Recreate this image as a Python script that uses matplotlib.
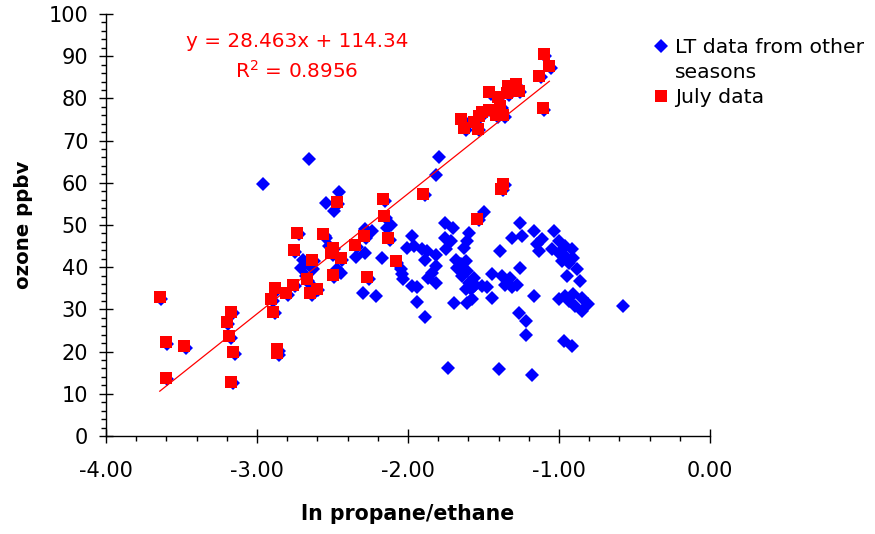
import matplotlib
matplotlib.use("Agg")
import matplotlib.pyplot as plt
from matplotlib.ticker import MultipleLocator, FormatStrFormatter
from matplotlib.lines import Line2D
from matplotlib.transforms import ScaledTranslation
import numpy as np

plt.rcParams['font.family'] = ['DejaVu Sans']
plt.rcParams['axes.unicode_minus'] = False

# LT data from other seasons: ln(propane/ethane) vs ozone (ppbv)
other_x = [-2.962, -2.653, -1.795, -1.815, -2.455, -2.543, -2.493, -2.115, -2.137,
           -2.284, -2.236, -2.345, -2.284, -2.174, -2.295, -2.209, -1.976, -2.005,
           -1.960, -1.906, -1.873, -1.888, -1.817, -1.758, -1.701, -1.756, -1.718,
           -1.751, -1.597, -1.608, -1.630, -1.685, -1.652, -1.619, -1.674, -1.817,
           -1.840, -1.866, -1.817, -1.608, -1.564, -1.553, -1.586, -1.619, -1.696,
           -1.608, -2.038, -2.049, -2.033, -1.972, -1.939, -1.943, -1.890, -1.734,
           -2.698, -2.708, -2.653, -2.632, -2.675, -2.653, -2.543, -2.521, -2.445,
           -2.467, -1.495, -1.256, -1.311, -1.245, -1.168, -1.114, -1.036, -1.003,
           -0.959, -0.915, -1.003, -1.047, -0.959, -0.904, -0.981, -0.937, -1.135,
           -1.146, -0.948, -0.882, -0.860, -1.389, -1.256, -1.443, -1.377, -1.322,
           -1.278, -1.311, -1.355, -1.641, -1.597, -1.564, -1.510, -1.476, -1.575,
           -1.443, -1.168, -1.003, -0.959, -0.904, -0.849, -0.805, -0.849, -0.893,
           -0.937, -0.579, -1.267, -1.217, -1.217, -0.970, -0.911, -1.399, -1.180]
other_y = [59.8, 65.6, 66.2, 61.8, 57.8, 55.2, 53.3, 50.1, 49.3,
           49.1, 48.5, 42.5, 43.3, 42.1, 34.0, 33.2, 47.5, 44.6,
           45.0, 44.2, 43.8, 41.8, 43.0, 50.5, 49.2, 47.0, 46.2,
           44.2, 48.2, 46.2, 44.6, 41.8, 40.7, 41.4, 39.9, 40.3,
           38.7, 37.5, 36.3, 39.1, 37.5, 35.9, 34.8, 34.8, 31.6,
           31.6, 38.3, 39.5, 37.1, 35.5, 35.4, 31.8, 28.1, 16.2,
           41.8, 39.9, 40.7, 39.5, 37.9, 36.3, 47.0, 45.0, 38.7,
           39.5, 53.1, 50.4, 47.0, 47.4, 48.5, 46.6, 48.5, 46.2,
           45.0, 44.2, 43.4, 44.2, 42.6, 42.2, 41.4, 41.0, 43.8,
           45.4, 37.9, 39.5, 36.7, 43.8, 39.9, 38.3, 37.9, 37.5,
           35.9, 35.2, 35.9, 37.9, 36.3, 35.5, 35.5, 35.2, 32.4,
           32.8, 33.2, 32.4, 33.2, 33.6, 32.8, 31.2, 29.6, 30.8,
           32.0, 30.7, 29.1, 27.3, 23.9, 22.5, 21.3, 15.8, 14.5]

# July data
july_x = [-3.644, -3.604, -3.604, -3.481, -3.200, -3.186, -3.173, -3.160, -3.173,
          -2.904, -2.893, -2.880, -2.867, -2.867, -2.807, -2.757, -2.733, -2.759,
          -2.671, -2.647, -2.636, -2.605, -2.561, -2.500, -2.511, -2.445, -2.500,
          -2.473, -2.350, -2.290, -2.269, -2.165, -2.156, -2.130, -2.082, -1.901,
          -1.543, -1.371, -1.384, -1.102, -1.064, -1.130, -1.108,
          -1.462, -1.406, -1.340, -1.287, -1.268, -1.344, -1.390, -1.461, -1.510,
          -1.418, -1.368, -1.648, -1.630, -1.560, -1.538, -1.531, -1.443]
july_y = [32.9, 22.3, 13.8, 21.3, 27.0, 23.6, 29.5, 19.8, 12.9,
          32.4, 29.5, 35.1, 20.6, 19.6, 33.8, 44.0, 48.2, 35.9,
          37.1, 33.8, 41.8, 34.9, 47.8, 44.6, 43.3, 42.2, 38.1,
          55.4, 45.2, 47.4, 37.6, 56.2, 52.1, 46.9, 41.4, 57.4,
          51.5, 59.8, 58.6, 90.5, 87.6, 85.4, 77.7,
          81.5, 80.4, 83.0, 83.4, 81.8, 81.2, 78.1, 77.3, 76.7,
          76.1, 76.1, 75.2, 73.0, 74.3, 72.8, 75.9, 77.3]

# Linear trend fitted to the July data
slope = 28.463
intercept = 114.34
r_squared = 0.8956

x_ticks = [-4.0, -3.0, -2.0, -1.0, 0.0]
y_ticks = [0, 10, 20, 30, 40, 50, 60, 70, 80, 90, 100]

BLUE = '#0000FF'
RED = '#FF0000'
W, H = 875, 534

fig = plt.figure(figsize=(W / 100, H / 100), dpi=100)
ax = fig.add_axes([106 / W, 1 - 436 / H, 604 / W, 422 / H])

ax.plot(other_x, other_y, ls='none', marker='D', ms=6.8, color=BLUE, mew=0, zorder=2)
# the July points are also part of the LT record; their diamonds sit just under the squares
shift = ScaledTranslation(1.2 / 72, -1.2 / 72, fig.dpi_scale_trans)
ax.plot(july_x, july_y, ls='none', marker='D', ms=6.8, color=BLUE, mew=0,
        transform=ax.transData + shift, zorder=2)
ax.plot(july_x, july_y, ls='none', marker='s', ms=8.2, color=RED, mew=0, zorder=3)

fit_x = np.array([min(july_x), max(july_x)])
ax.plot(fit_x, slope * fit_x + intercept, color=RED, lw=0.9, zorder=4)

ax.set_xlim(-4, 0)
ax.set_ylim(0, 100)
ax.set_xticks(x_ticks)
ax.set_yticks(y_ticks)
ax.xaxis.set_major_formatter(FormatStrFormatter('%.2f'))
ax.xaxis.set_minor_locator(MultipleLocator(0.2))
ax.yaxis.set_minor_locator(MultipleLocator(2))
ax.tick_params(which='major', direction='inout', length=9.5, width=1, color='black')
ax.tick_params(which='minor', direction='out', length=3.6, width=1, color='black')
ax.tick_params(axis='x', which='major', labelsize=15, pad=13.5)
ax.tick_params(axis='y', which='major', labelsize=15, pad=8)
for side in ('top', 'right'):
    ax.spines[side].set_visible(False)
for side in ('left', 'bottom'):
    ax.spines[side].set_linewidth(1.0)

ax.set_xlabel('ln propane/ethane', fontsize=14.8, fontweight='bold')
ax.xaxis.set_label_coords(0.5, -0.161)
ax.set_ylabel('ozone ppbv', fontsize=14.2, fontweight='bold')
ax.yaxis.set_label_coords(-0.1205, 0.5)

fig.text(297 / W, 1 - 46.7 / H, f'y = {slope}x + {intercept}', color=RED,
         fontsize=14.4, ha='center', va='baseline')
fig.text(297 / W, 1 - 77.3 / H, f'R$^2$ = {r_squared}', color=RED,
         fontsize=14.4, ha='center', va='baseline')

handles = [Line2D([], [], ls='none', marker='D', ms=6.8, color=BLUE, mew=0),
           Line2D([], [], ls='none'),
           Line2D([], [], ls='none', marker='s', ms=8.2, color=RED, mew=0)]
labels = ['LT data from other', 'seasons', 'July data']
fig.legend(handles, labels, loc='upper left', bbox_to_anchor=(652.8 / W, 1 - 38 / H),
           frameon=False, fontsize=14.7, handlelength=0.8, handletextpad=0.29,
           labelspacing=0.3, borderpad=0, borderaxespad=0)

fig.savefig('out.png', dpi=100)
